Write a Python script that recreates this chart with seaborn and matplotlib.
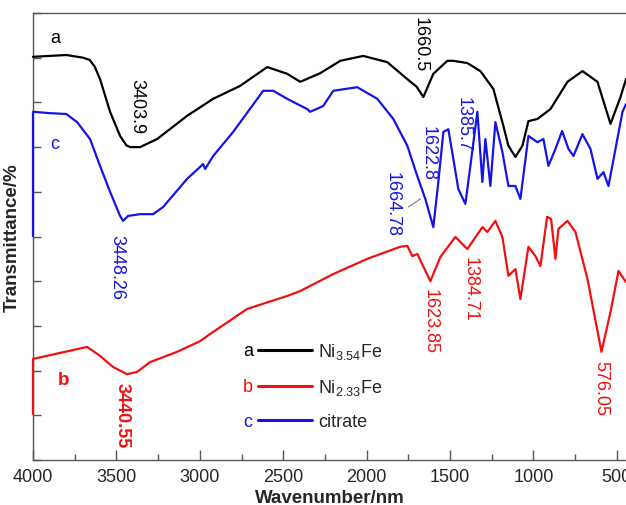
import numpy as np
import pandas as pd
import seaborn as sns
import matplotlib
matplotlib.use("Agg")
import matplotlib.pyplot as plt
from matplotlib.lines import Line2D

# FTIR spectra (wavenumber, transmittance)
WN_A = [4000, 3900, 3800, 3700, 3660, 3630, 3598, 3538, 3478, 3440, 3418, 3358,
        3256, 3076, 2920, 2758, 2596, 2476, 2398, 2280, 2158, 2020, 1876, 1756,
        1700, 1660, 1600, 1516, 1480, 1396, 1318, 1240, 1180, 1150, 1108, 1066,
        1030, 976, 898, 796, 706, 616, 538, 478, 445]
T_A = [90.2, 90.4, 90.6, 90.0, 89.5, 88.0, 85.2, 77.9, 72.5, 70.4, 70.0, 70.0,
       71.8, 77.0, 80.8, 83.7, 87.9, 86.4, 84.6, 86.5, 89.3, 90.4, 89.0, 85.2,
       83.5, 81.2, 86.4, 89.3, 89.3, 88.8, 87.0, 83.0, 74.7, 70.3, 67.8, 70.3,
       75.8, 76.3, 78.5, 84.6, 87.0, 84.6, 75.2, 81.2, 85.2]

WN_B = [4000, 4000, 3880, 3760, 3676, 3598, 3520, 3436, 3376, 3298, 3136, 2998,
        2938, 2716, 2476, 2398, 2200, 1996, 1798, 1756, 1726, 1696, 1618, 1558,
        1468, 1396, 1306, 1276, 1228, 1186, 1150, 1108, 1078, 1030, 988, 958,
        918, 894, 868, 850, 796, 748, 676, 592, 538, 490, 445]
T_B = [10.3, 22.6, 23.6, 24.6, 25.3, 23.3, 20.8, 19.2, 19.7, 21.9, 24.2, 26.6,
       28.2, 33.8, 36.7, 37.8, 41.6, 45.0, 47.7, 47.9, 45.6, 46.1, 40.0, 45.4,
       49.9, 47.2, 52.1, 51.0, 53.5, 49.9, 41.2, 42.7, 36.0, 47.7, 45.6, 43.4,
       54.4, 53.9, 45.0, 51.7, 53.5, 51.0, 40.5, 24.2, 33.1, 42.3, 39.8]

WN_C = [4000, 4000, 3900, 3800, 3736, 3658, 3598, 3538, 3478, 3460, 3430, 3358,
        3280, 3220, 3076, 2980, 2968, 2920, 2800, 2620, 2560, 2476, 2356, 2338,
        2260, 2200, 2056, 1936, 1840, 1756, 1696, 1648, 1600, 1570, 1540, 1510,
        1450, 1408, 1378, 1336, 1306, 1288, 1258, 1228, 1186, 1150, 1108, 1078,
        1030, 976, 940, 910, 868, 828, 790, 760, 706, 658, 616, 580, 550, 508,
        466, 445]
T_C = [50.1, 77.9, 77.6, 77.4, 75.6, 71.8, 65.8, 60.0, 54.6, 53.5, 54.6, 55.0,
       55.0, 56.6, 62.9, 66.2, 65.1, 68.0, 73.4, 82.6, 82.6, 80.8, 78.5, 77.9,
       79.2, 82.6, 83.4, 80.8, 76.3, 70.3, 63.5, 58.4, 52.1, 62.2, 73.4, 74.0,
       60.6, 57.3, 65.8, 77.9, 62.2, 71.8, 61.3, 75.6, 68.9, 61.3, 61.3, 58.4,
       72.5, 71.1, 71.8, 65.8, 69.6, 73.6, 69.6, 68.0, 72.9, 69.6, 62.9, 64.4,
       61.3, 69.6, 77.9, 79.6]

SAMPLES = ["a", "b", "c"]
LEGEND_NAMES = ["Ni$_{\\mathrm{3.54}}$Fe", "Ni$_{\\mathrm{2.33}}$Fe", "citrate"]
COLORS = {"a": "#000000", "b": "#f01010", "c": "#1414e6"}

# peak labels: text, wavenumber, transmittance, sample, bold
PEAK_TEXT = ["3403.9", "1660.5", "1622.8", "1385.7", "1664.78", "3448.26",
             "3440.55", "1623.85", "1384.71", "576.05"]
PEAK_X = [3376, 1678, 1630, 1420, 1846, 3496, 3466, 1618, 1378, 598]
PEAK_Y = [79.2, 93.1, 68.7, 75.4, 57.3, 43.2, 10.1, 31.1, 38.3, 16.3]
PEAK_S = ["a", "a", "c", "c", "c", "c", "b", "b", "b", "b"]
PEAK_BOLD = [False, False, False, False, False, False, True, False, False, False]

df = pd.concat([
    pd.DataFrame({"wn": WN_A, "T": T_A, "sample": "a"}),
    pd.DataFrame({"wn": WN_B, "T": T_B, "sample": "b"}),
    pd.DataFrame({"wn": WN_C, "T": T_C, "sample": "c"}),
], ignore_index=True)

sns.set_style("ticks")
plt.rcParams["font.family"] = ["Liberation Sans", "DejaVu Sans"]
plt.rcParams["mathtext.fontset"] = "custom"
plt.rcParams["mathtext.rm"] = "Liberation Sans"
plt.rcParams["mathtext.it"] = "Liberation Sans:italic"
plt.rcParams["mathtext.bf"] = "Liberation Sans:bold"

fig = plt.figure(figsize=(6.26, 5.06), dpi=100)
ax = fig.add_axes([33 / 626, 45 / 506, 593 / 626, 447 / 506])

sns.lineplot(data=df, x="wn", y="T", hue="sample", palette=COLORS,
             estimator=None, sort=False, linewidth=1.6, legend=False, ax=ax)
for ln in ax.get_lines():
    ln.set_clip_on(False)
    ln.set_zorder(3)

ax.set_xlim(4000, 445)
ax.set_ylim(0, 100)
ax.set_xticks(np.arange(4000, 400, -500))
ax.set_xticks(np.arange(3750, 400, -500), minor=True)
ax.set_yticks(np.arange(0, 101, 10))
ax.set_yticklabels([])
ax.tick_params(axis="x", which="major", direction="in", length=7, width=1,
               color="#555555", labelsize=13, pad=6)
ax.tick_params(axis="x", which="minor", direction="in", length=4, width=1,
               color="#555555")
ax.tick_params(axis="y", direction="in", length=6, width=1, color="#555555")
for side in ["left", "top", "bottom"]:
    ax.spines[side].set_color("#555555")
    ax.spines[side].set_linewidth(1)
    ax.spines[side].set_zorder(1)
ax.spines["right"].set_visible(False)

ax.set_xlabel("Wavenumber/nm", fontsize=13.5, fontweight="bold", labelpad=3)
ax.set_ylabel("Transmittance/%", fontsize=13.5, fontweight="bold", labelpad=5)

for txt, x, y, s, bold in zip(PEAK_TEXT, PEAK_X, PEAK_Y, PEAK_S, PEAK_BOLD):
    ax.text(x, y, txt, rotation=-90, ha="center", va="center", fontsize=13,
            color=COLORS[s], fontweight="bold" if bold else "normal")

# little pointer for the 1664.78 shoulder
ax.plot([1750, 1678], [56.6, 58.4], color="#777777", linewidth=0.8)

# curve tags
ax.text(3868, 94.6, "a", color=COLORS["a"], fontsize=13, ha="center", va="center")
ax.text(3868, 70.7, "c", color=COLORS["c"], fontsize=13, ha="center", va="center")
ax.text(3820, 18.1, "b", color=COLORS["b"], fontsize=13.5, ha="center", va="center",
        fontweight="bold")

# legend: one entry per row so each lines up with its coloured letter
ROW_PX = [352, 388, 423]
legends = []
for i, s in enumerate(SAMPLES):
    yfrac = (461 - ROW_PX[i]) / 447
    h = Line2D([], [], color=COLORS[s], linewidth=2.2)
    leg = ax.legend([h], [LEGEND_NAMES[i]], loc="center left",
                    bbox_to_anchor=((258 - 33) / 593, yfrac),
                    frameon=False, fontsize=13, handlelength=3.0,
                    handletextpad=0.35, borderpad=0, borderaxespad=0)
    legends.append(leg)
    ax.text((248 - 33) / 593, yfrac, s, transform=ax.transAxes,
            color=COLORS[s], fontsize=13, ha="center", va="center")
# the last one stays as ax.legend_, the others are added as extra artists
for leg in legends[:-1]:
    ax.add_artist(leg)

fig.savefig("out.png", dpi=100)
